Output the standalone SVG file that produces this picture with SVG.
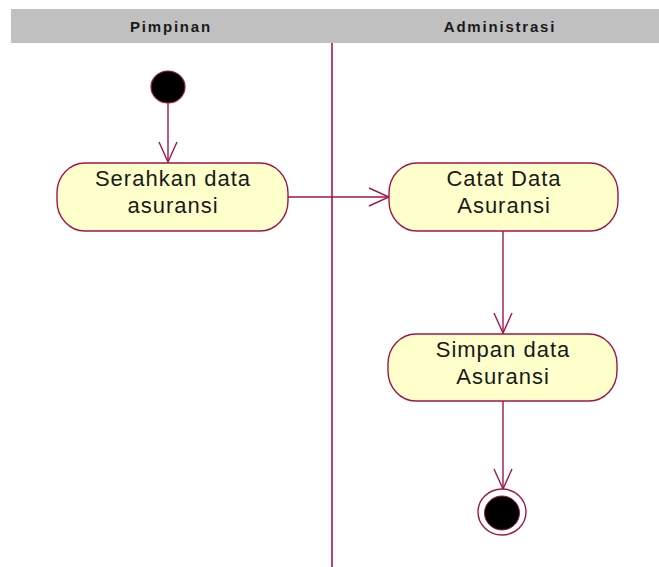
<svg xmlns="http://www.w3.org/2000/svg" width="659" height="567" viewBox="0 0 659 567">
  <defs>
    <style>
      .lane-title { font-family: "Liberation Sans", Arial, sans-serif; font-size: 15px; font-weight: bold; letter-spacing: 1.8px; fill: #1a1a1a; text-anchor: middle; }
      .activity rect { fill: #FFFFCC; stroke: #A0164A; stroke-width: 1.4; }
      .activity text { font-family: "Liberation Sans", Arial, sans-serif; font-size: 22px; letter-spacing: 1px; fill: #1a1a1a; text-anchor: middle; }
      .flow { fill: none; stroke: #A0164A; stroke-width: 1.4; }
      .swimlane { stroke: #A0164A; stroke-width: 1.6; }
    </style>
    <marker id="openArrow" viewBox="0 0 22 20" refX="21" refY="10" markerWidth="22" markerHeight="20" markerUnits="userSpaceOnUse" orient="auto">
      <path d="M1,1 L21,10 L1,19" fill="none" stroke="#A0164A" stroke-width="1.4"/>
    </marker>
  </defs>

  <rect width="659" height="567" fill="#FFFFFF"/>

  <!-- swimlane header -->
  <g id="lanes">
    <rect x="11" y="9" width="648" height="34" fill="#C0C0C0"/>
    <text class="lane-title" x="171" y="32">Pimpinan</text>
    <text class="lane-title" x="500" y="32">Administrasi</text>
    <line class="swimlane" x1="332" y1="43" x2="332" y2="567"/>
  </g>

  <!-- transitions -->
  <g id="connectors">
    <line class="flow" x1="168" y1="103" x2="168" y2="162" marker-end="url(#openArrow)"/>
    <line class="flow" x1="288" y1="197" x2="389" y2="197" marker-end="url(#openArrow)"/>
    <line class="flow" x1="503" y1="231" x2="503" y2="333" marker-end="url(#openArrow)"/>
    <line class="flow" x1="503" y1="401" x2="503" y2="489" marker-end="url(#openArrow)"/>
  </g>

  <!-- initial state -->
  <g id="start">
    <ellipse cx="168" cy="87" rx="17" ry="16" fill="#000000" stroke="#A0164A" stroke-width="1.2"/>
  </g>

  <g id="serahkan" class="activity">
    <rect x="57" y="163" width="231" height="68" rx="28" ry="30"/>
    <text x="173" y="186">Serahkan data</text>
    <text x="173" y="213">asuransi</text>
  </g>

  <g id="catat" class="activity">
    <rect x="389" y="163" width="229" height="68" rx="28" ry="30"/>
    <text x="504" y="186">Catat Data</text>
    <text x="504" y="213">Asuransi</text>
  </g>

  <g id="simpan" class="activity">
    <rect x="388" y="334" width="229" height="67" rx="28" ry="30"/>
    <text x="503" y="357">Simpan data</text>
    <text x="503" y="384">Asuransi</text>
  </g>

  <!-- final state -->
  <g id="end">
    <ellipse cx="502" cy="512" rx="24" ry="23" fill="#FFFFFF" stroke="#A0164A" stroke-width="1.4"/>
    <ellipse cx="502" cy="513" rx="17.5" ry="17" fill="#000000" stroke="#A0164A" stroke-width="1"/>
  </g>
</svg>
